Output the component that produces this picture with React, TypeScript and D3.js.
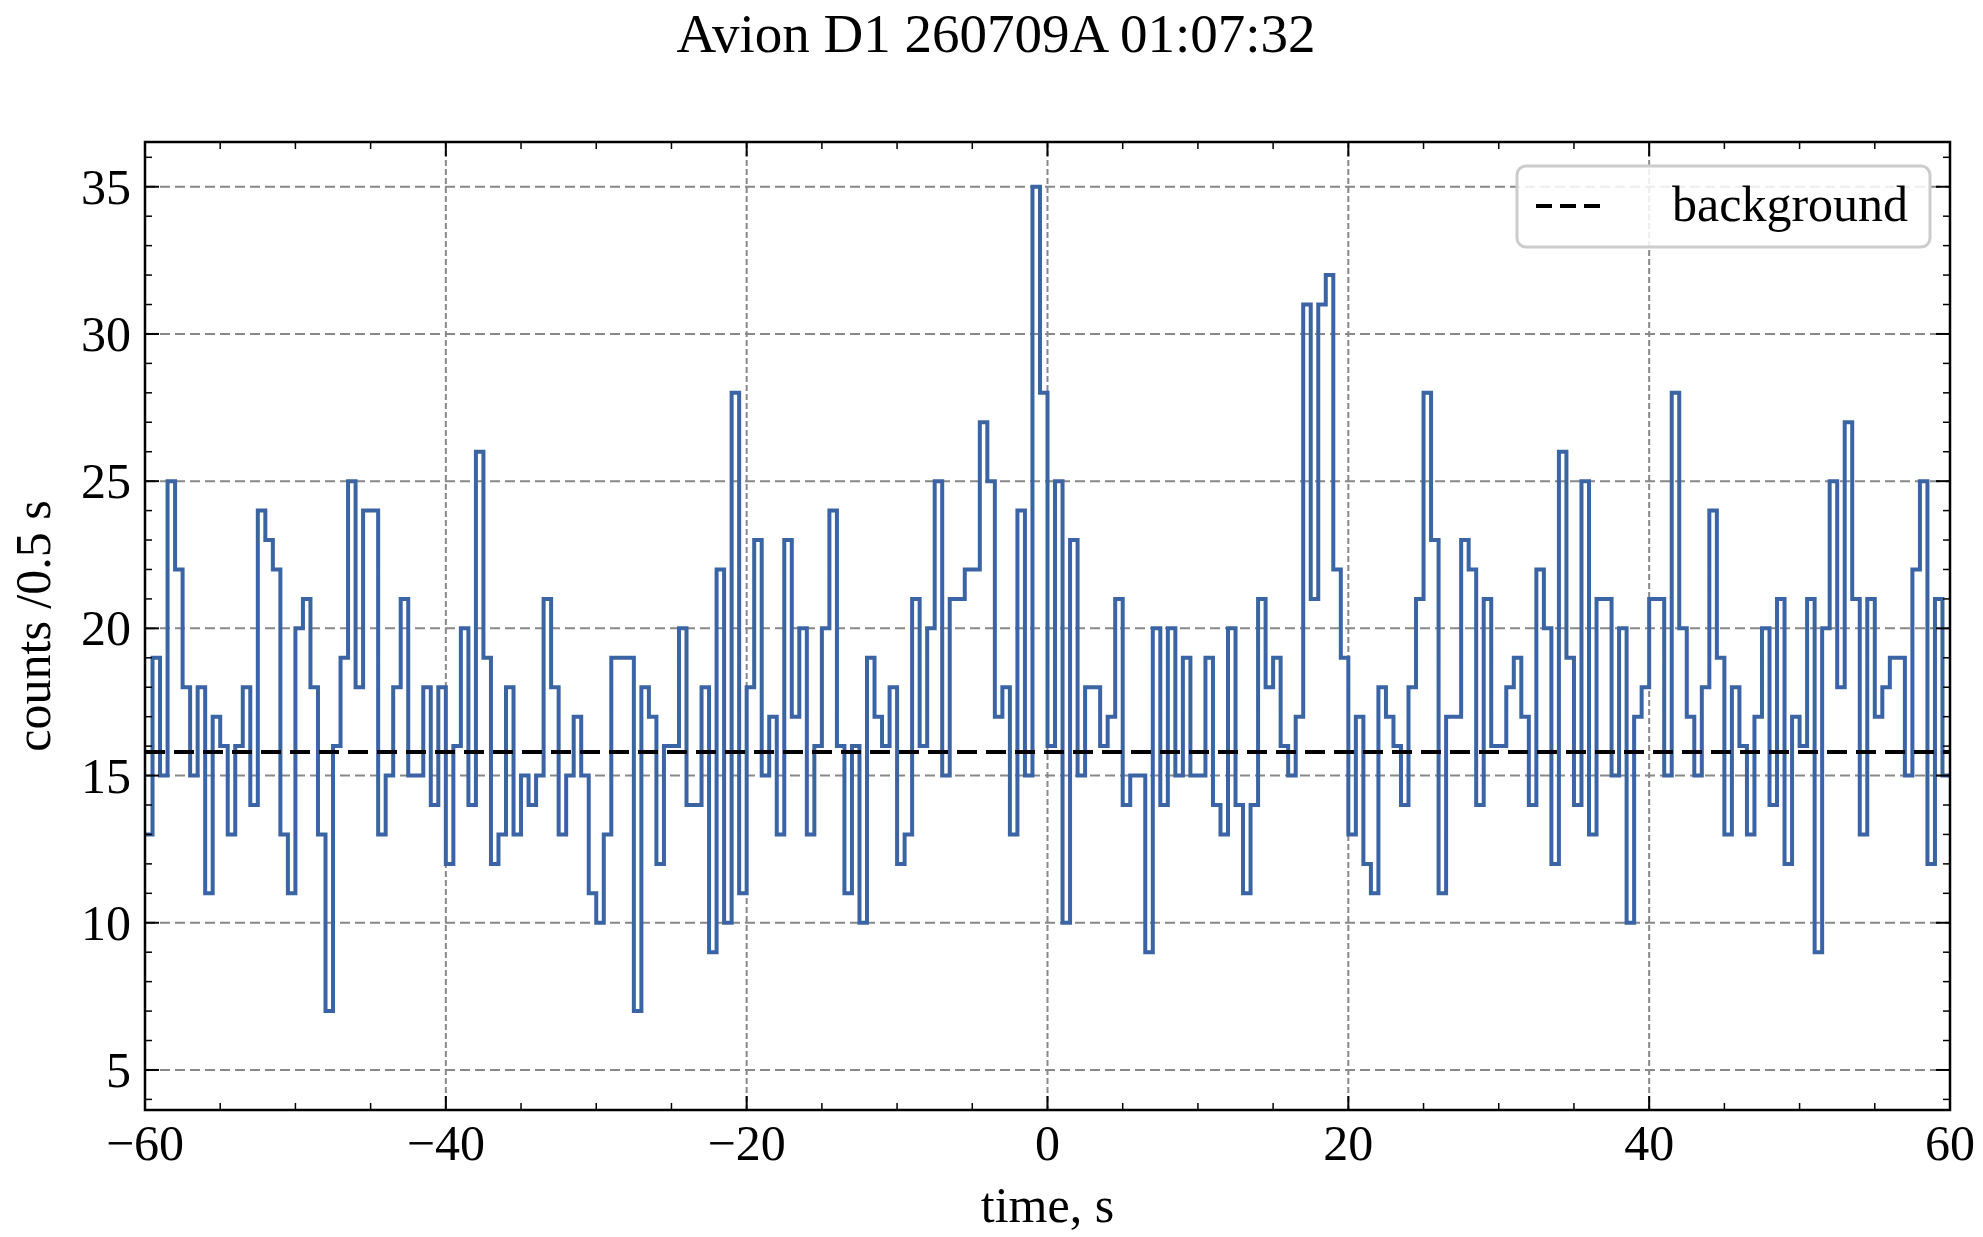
import React from 'react';
import * as d3 from 'd3';

// counts per 0.5 s bin, starting at t = -60 s
const counts = [
  13, 19, 15, 25, 22, 18, 15, 18, 11, 17, 16, 13, 16, 18, 14, 24, 23, 22, 13, 11,
  20, 21, 18, 13, 7, 16, 19, 25, 18, 24, 24, 13, 15, 18, 21, 15, 15, 18, 14, 18,
  12, 16, 20, 14, 26, 19, 12, 13, 18, 13, 15, 14, 15, 21, 18, 13, 15, 17, 15, 11,
  10, 13, 19, 19, 19, 7, 18, 17, 12, 16, 16, 20, 14, 14, 18, 9, 22, 10, 28, 11,
  18, 23, 15, 17, 13, 23, 17, 20, 13, 16, 20, 24, 16, 11, 16, 10, 19, 17, 16, 18,
  12, 13, 21, 16, 20, 25, 15, 21, 21, 22, 22, 27, 25, 17, 18, 13, 24, 15, 35, 28,
  16, 25, 10, 23, 15, 18, 18, 16, 17, 21, 14, 15, 15, 9, 20, 14, 20, 15, 19, 15,
  15, 19, 14, 13, 20, 14, 11, 14, 21, 18, 19, 16, 15, 17, 31, 21, 31, 32, 22, 19,
  13, 17, 12, 11, 18, 17, 16, 14, 18, 21, 28, 23, 11, 17, 17, 23, 22, 14, 21, 16,
  16, 18, 19, 17, 14, 22, 20, 12, 26, 19, 14, 25, 13, 21, 21, 15, 20, 10, 17, 18,
  21, 21, 15, 28, 20, 17, 15, 18, 24, 19, 13, 18, 16, 13, 17, 20, 14, 21, 12, 17,
  16, 21, 9, 20, 25, 18, 27, 21, 13, 21, 17, 18, 19, 19, 15, 22, 25, 12, 21, 15,
];
const tStart = -60;
const binWidth = 0.5;
const background = 15.8;
const xTicks = [-60, -40, -20, 0, 20, 40, 60];
const yTicks = [5, 10, 15, 20, 25, 30, 35];

const W = 1983, H = 1237;
const L = 145, R = 1950, T = 142, B = 1110;
const font = '"Liberation Serif", "DejaVu Serif", serif';

export default function App() {
  const x = d3.scaleLinear().domain([-60, 60]).range([L, R]);
  const y = d3.scaleLinear().domain([3.64, 36.52]).range([B, T]);

  const pts: [number, number][] = counts.map((c, i) => [tStart + i * binWidth, c]);
  pts.push([tStart + counts.length * binWidth, counts[counts.length - 1]]);
  const line = d3.line<[number, number]>().x(d => x(d[0])).y(d => y(d[1])).curve(d3.curveStepAfter);

  const xMinor = d3.range(-60, 60.01, 5).filter(v => v % 20 !== 0);
  const yMinor = d3.range(4, 37, 1).filter(v => v % 5 !== 0);
  const fmt = (v: number) => (v < 0 ? '\u2212' + Math.abs(v) : String(v));

  return (
    <svg width={W} height={H} style={{ position: 'absolute', left: 0, top: 0, background: '#fff' }}>
      <defs>
        <clipPath id="plot"><rect x={L} y={T} width={R - L} height={B - T} /></clipPath>
      </defs>
      <text x={996} y={52} textAnchor="middle" fontFamily={font} fontSize={55}>Avion D1 260709A 01:07:32</text>

      {/* grid */}
      {xTicks.slice(1, -1).map(v => (
        <line key={'gx' + v} x1={x(v)} x2={x(v)} y1={T} y2={B} stroke="#888" strokeWidth={2} strokeDasharray="6,3" />
      ))}
      {yTicks.map(v => (
        <line key={'gy' + v} x1={L} x2={R} y1={y(v)} y2={y(v)} stroke="#888" strokeWidth={2} strokeDasharray="10,5" />
      ))}

      <g clipPath="url(#plot)">
        <path d={line(pts) || ''} fill="none" stroke="#3a64a4" strokeWidth={4} />
        <line x1={L} x2={R} y1={y(background)} y2={y(background)} stroke="#000" strokeWidth={4} strokeDasharray="20,9" />
      </g>

      {/* ticks */}
      {xTicks.map(v => (
        <g key={'tx' + v}>
          <line x1={x(v)} x2={x(v)} y1={B} y2={B - 14} stroke="#000" strokeWidth={2} />
          <line x1={x(v)} x2={x(v)} y1={T} y2={T + 14} stroke="#000" strokeWidth={2} />
          <text x={x(v)} y={B + 50} textAnchor="middle" fontFamily={font} fontSize={50}>{fmt(v)}</text>
        </g>
      ))}
      {xMinor.map(v => (
        <g key={'mx' + v}>
          <line x1={x(v)} x2={x(v)} y1={B} y2={B - 7} stroke="#000" strokeWidth={1.5} />
          <line x1={x(v)} x2={x(v)} y1={T} y2={T + 7} stroke="#000" strokeWidth={1.5} />
        </g>
      ))}
      {yTicks.map(v => (
        <g key={'ty' + v}>
          <line x1={L} x2={L + 14} y1={y(v)} y2={y(v)} stroke="#000" strokeWidth={2} />
          <line x1={R} x2={R - 14} y1={y(v)} y2={y(v)} stroke="#000" strokeWidth={2} />
          <text x={L - 14} y={y(v) + 17} textAnchor="end" fontFamily={font} fontSize={50}>{v}</text>
        </g>
      ))}
      {yMinor.map(v => (
        <g key={'my' + v}>
          <line x1={L} x2={L + 7} y1={y(v)} y2={y(v)} stroke="#000" strokeWidth={1.5} />
          <line x1={R} x2={R - 7} y1={y(v)} y2={y(v)} stroke="#000" strokeWidth={1.5} />
        </g>
      ))}
      <rect x={L} y={T} width={R - L} height={B - T} fill="none" stroke="#000" strokeWidth={2.5} />

      {/* axis labels */}
      <text x={(L + R) / 2} y={1222} textAnchor="middle" fontFamily={font} fontSize={50}>time, s</text>
      <text transform={`translate(50,${(T + B) / 2}) rotate(-90)`} textAnchor="middle" fontFamily={font} fontSize={50}>counts /0.5 s</text>

      {/* legend */}
      <rect x={1517} y={166} width={413} height={81} rx={9} fill="#fff" fillOpacity={0.85} stroke="#ccc" strokeWidth={3} />
      <line x1={1536} x2={1600} y1={206} y2={206} stroke="#000" strokeWidth={4} strokeDasharray="16,8" />
      <text x={1672} y={221} fontFamily={font} fontSize={50}>background</text>
    </svg>
  );
}
